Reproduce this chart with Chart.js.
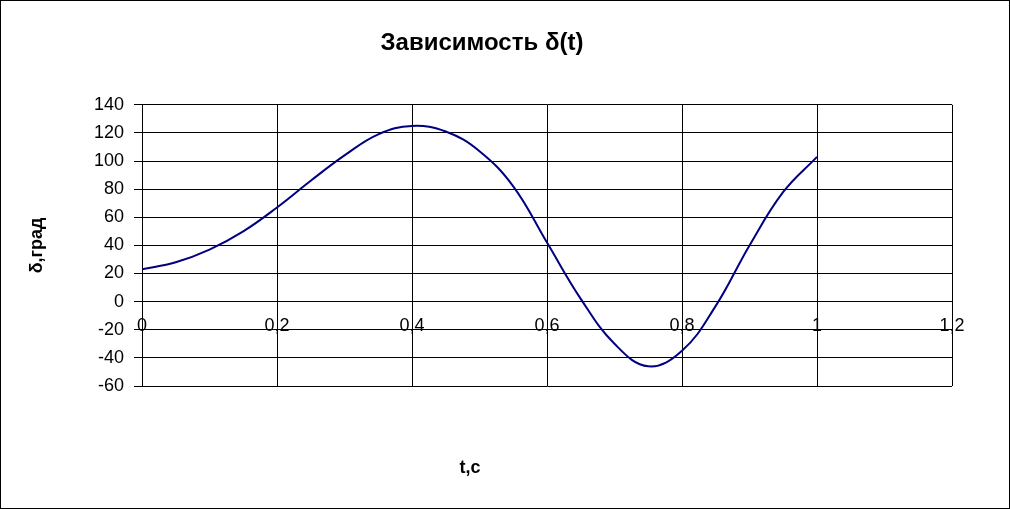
<!DOCTYPE html>
<html>
<head>
<meta charset="utf-8">
<script src="https://cdn.jsdelivr.net/npm/chart.js@4/dist/chart.umd.min.js"></script>
<style>
  html, body { margin: 0; padding: 0; background: #fff; }
  #wrap { width: 1010px; height: 509px; position: relative; }
</style>
</head>
<body>
<div id="wrap"><canvas id="c" width="1010" height="509"></canvas></div>
<script>
const chartTitle = 'Зависимость δ(t)';
const xTitle = 't,c';
const yTitle = 'δ,град';
const tValues = [0, 0.05, 0.1, 0.15, 0.2, 0.25, 0.3, 0.35, 0.4, 0.45, 0.5, 0.55, 0.6, 0.65, 0.7, 0.75, 0.8, 0.85, 0.9, 0.95, 1.0];
const deltaValues = [23, 28, 37, 50, 67, 86, 104, 119, 125, 121, 107, 82, 42, 2, -30, -46, -35, -3, 40, 78, 103];
const xTicks = [0, 0.2, 0.4, 0.6, 0.8, 1, 1.2];
const yTicks = [-60, -40, -20, 0, 20, 40, 60, 80, 100, 120, 140];

const points = tValues.map((t, i) => ({ x: t, y: deltaValues[i] }));
const fontFamily = '"Liberation Sans", Arial, sans-serif';

const frame = {
  id: 'frame',
  afterDraw(chart) {
    const ctx = chart.ctx;
    ctx.save();
    ctx.strokeStyle = '#000';
    ctx.lineWidth = 1;
    ctx.strokeRect(0.5, 0.5, chart.width - 1, chart.height - 1);
    ctx.fillStyle = '#000';
    ctx.font = 'bold 18px ' + fontFamily;
    ctx.textAlign = 'center';
    ctx.textBaseline = 'middle';
    ctx.fillText(xTitle, 470, 468);
    ctx.restore();
  }
};

new Chart(document.getElementById('c'), {
  type: 'line',
  data: {
    datasets: [{
      data: points,
      borderColor: '#000080',
      borderWidth: 2,
      pointRadius: 0,
      fill: false,
      tension: 0.4
    }]
  },
  options: {
    responsive: false,
    animation: false,
    layout: { padding: { left: 12, right: 58, top: 0, bottom: 123 } },
    plugins: {
      legend: { display: false },
      tooltip: { enabled: false },
      title: {
        display: true,
        text: chartTitle,
        color: '#000',
        font: { family: fontFamily, size: 24, weight: 'bold' },
        padding: { top: 29, bottom: 47 }
      }
    },
    scales: {
      x: {
        type: 'linear',
        position: { y: 0 },
        min: 0,
        max: 1.2,
        afterBuildTicks(scale) { scale.ticks = xTicks.map(v => ({ value: v })); },
        ticks: {
          autoSkip: false,
          maxRotation: 0,
          color: '#000',
          padding: 14,
          font: { family: fontFamily, size: 18 },
          callback: v => String(Math.round(v * 10) / 10).replace('.', ',')
        },
        grid: { color: '#000', lineWidth: 1, drawTicks: false },
        border: { color: '#000', width: 1 }
      },
      y: {
        type: 'linear',
        position: 'left',
        min: -60,
        max: 140,
        afterBuildTicks(scale) { scale.ticks = yTicks.map(v => ({ value: v })); },
        afterFit(scale) { scale.width = 130; },
        ticks: {
          autoSkip: false,
          color: '#000',
          padding: 10,
          font: { family: fontFamily, size: 18 }
        },
        grid: { color: '#000', lineWidth: 1, tickLength: 8 },
        border: { color: '#000', width: 1 },
        title: {
          display: true,
          text: yTitle,
          color: '#000',
          font: { family: fontFamily, size: 18, weight: 'bold' },
          padding: { top: 14, bottom: 0 }
        }
      }
    }
  },
  plugins: [frame]
});
</script>
</body>
</html>
